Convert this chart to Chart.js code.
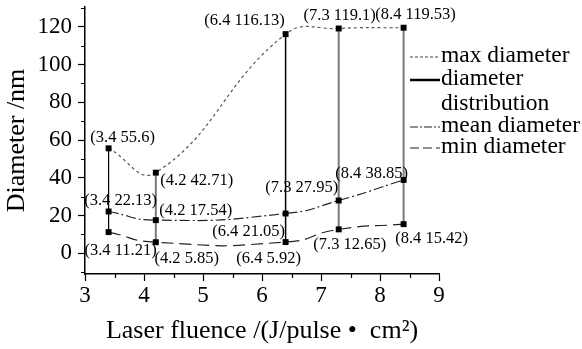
<!DOCTYPE html>
<html><head><meta charset="utf-8">
<script src="https://cdn.jsdelivr.net/npm/chart.js@4/dist/chart.umd.min.js"></script>
<style>html,body{margin:0;padding:0;background:#fff;}#wrap{width:582px;height:349px;position:relative;}</style>
</head><body><div id="wrap"><canvas id="c"></canvas></div>
<script>
// ---- data ----
const fluence = [3.4, 4.2, 6.4, 7.3, 8.4];
const maxDiameter = [55.6, 42.71, 116.13, 119.1, 119.53];
const meanDiameter = [22.13, 17.54, 21.05, 27.95, 38.85];
const minDiameter = [11.21, 5.85, 5.92, 12.65, 15.42];
const xTicks = [3, 4, 5, 6, 7, 8, 9];
const yTicks = [0, 20, 40, 60, 80, 100, 120];
const xMinorTicks = [3.5, 4.5, 5.5, 6.5, 7.5, 8.5];
const yMinorTicks = [-10, 10, 30, 50, 70, 90, 110, 130];
const legendLabels = ['max diameter', 'diameter', 'distribution', 'mean diameter', 'min diameter'];
const xTitle = 'Laser fluence /(J/pulse \u2022  cm\u00B2)';
const yTitle = 'Diameter /nm';

// ---- styles (label offsets in px) ----
const labelOffsets = [
  [[14,-11],[41,8],[-41,-13],[1,-13],[12,-13]],
  [[12,-11],[40,-9],[-37,18],[-37,-13],[-32,-6]],
  [[12,19],[31,16],[-17,17],[11,15],[28,15]]
];
const distColors = ['#000', '#7a7a7a', '#000', '#7a7a7a', '#7a7a7a'];
const distWidths = [1.2, 2, 1.5, 2, 2];
const FONT = "'Liberation Serif', 'Times New Roman', serif";

const pts = arr => fluence.map((x, i) => ({x: x, y: arr[i]}));
const seriesList = [maxDiameter, meanDiameter, minDiameter];

const datasets = [
  {label: 'max diameter', data: pts(maxDiameter), borderColor: '#555', borderWidth: 1.2, borderDash: [3, 3], tension: 0.45,
   pointStyle: 'rect', pointRadius: 4.2, pointBackgroundColor: '#000', pointBorderColor: '#000', pointBorderWidth: 0},
  {label: 'mean diameter', data: pts(meanDiameter), borderColor: '#222', borderWidth: 1.2, borderDash: [10, 3, 2, 3], tension: 0.55,
   pointStyle: 'rect', pointRadius: 4.2, pointBackgroundColor: '#000', pointBorderColor: '#000', pointBorderWidth: 0},
  {label: 'min diameter', data: pts(minDiameter), borderColor: '#222', borderWidth: 1.2, borderDash: [12, 6], tension: 0.6,
   pointStyle: 'rect', pointRadius: 4.2, pointBackgroundColor: '#000', pointBorderColor: '#000', pointBorderWidth: 0}
];
fluence.forEach((x, i) => {
  datasets.push({label: 'dist' + i, data: [{x: x, y: minDiameter[i]}, {x: x, y: maxDiameter[i]}],
    borderColor: distColors[i], borderWidth: distWidths[i], pointRadius: 0, tension: 0});
});

const overlay = {
  id: 'overlay',
  afterDraw(chart) {
    const ctx = chart.ctx, xs = chart.scales.x, ys = chart.scales.y;
    const ca = chart.chartArea;
    ctx.save();
    ctx.strokeStyle = '#000'; ctx.lineWidth = 1.2;
    ctx.beginPath();
    yMinorTicks.forEach(v => { const y = Math.round(ys.getPixelForValue(v)) + 0.5; ctx.moveTo(ca.left - 4, y); ctx.lineTo(ca.left, y); });
    xMinorTicks.forEach(v => { const x = Math.round(xs.getPixelForValue(v)) + 0.5; ctx.moveTo(x, ca.bottom); ctx.lineTo(x, ca.bottom + 4); });
    ctx.stroke();
    ctx.fillStyle = '#000';
    ctx.font = '16.5px ' + FONT;
    ctx.textAlign = 'center'; ctx.textBaseline = 'middle';
    seriesList.forEach((arr, s) => {
      arr.forEach((v, i) => {
        const px = xs.getPixelForValue(fluence[i]), py = ys.getPixelForValue(v);
        const o = labelOffsets[s][i];
        ctx.fillText('(' + fluence[i] + ' ' + v + ')', px + o[0], py + o[1]);
      });
    });
    const lx0 = 410, lx1 = 440, tx = 441;
    const rows = [55, 78, 103, 125, 146];
    ctx.font = '23.5px ' + FONT;
    ctx.textAlign = 'left';
    legendLabels.forEach((t, i) => ctx.fillText(t, tx, rows[i] + 1));
    const sample = (y, color, w, dash) => {
      ctx.beginPath(); ctx.setLineDash(dash); ctx.strokeStyle = color; ctx.lineWidth = w;
      ctx.moveTo(lx0, y); ctx.lineTo(lx1, y); ctx.stroke();
    };
    sample(rows[0] + 2, '#444', 1.2, [3, 2]);
    sample(rows[1] + 2, '#000', 2.5, []);
    sample(rows[3] + 2, '#222', 1.2, [8, 2, 2, 2]);
    sample(rows[4] + 2, '#222', 1.2, [9, 4]);
    ctx.restore();
  }
};

new Chart(document.getElementById('c'), {
  type: 'line',
  data: {datasets: datasets},
  options: {
    responsive: true, maintainAspectRatio: false, animation: false,
    layout: {padding: {top: 7, right: 143, left: 0, bottom: 0}},
    plugins: {legend: {display: false}, tooltip: {enabled: false}},
    scales: {
      x: {
        type: 'linear', min: 3, max: 9,
        afterBuildTicks: s => { s.ticks = xTicks.map(v => ({value: v})); },
        afterFit: s => { s.height = 75; s.paddingLeft = 0; s.paddingRight = 0; },
        grid: {drawOnChartArea: false, drawTicks: true, tickLength: 7, tickColor: '#000', tickWidth: 1.2},
        border: {display: true, color: '#000', width: 1.5},
        ticks: {color: '#000', font: {family: FONT, size: 23}, padding: 1, maxRotation: 0},
        title: {display: true, text: xTitle, color: '#000', font: {family: FONT, size: 26}, padding: {top: 0, bottom: 2}}
      },
      y: {
        type: 'linear', min: -11, max: 130.5,
        afterBuildTicks: s => { s.ticks = yTicks.map(v => ({value: v})); },
        afterFit: s => { s.width = 85; s.paddingTop = 0; s.paddingBottom = 0; },
        grid: {drawOnChartArea: false, drawTicks: true, tickLength: 7, tickColor: '#000', tickWidth: 1.2},
        border: {display: true, color: '#000', width: 1.5},
        ticks: {color: '#000', font: {family: FONT, size: 23}, padding: 6},
        title: {display: true, text: yTitle, color: '#000', font: {family: FONT, size: 26}, padding: {top: 2, bottom: 0}}
      }
    }
  },
  plugins: [overlay]
});
</script>
</body></html>
